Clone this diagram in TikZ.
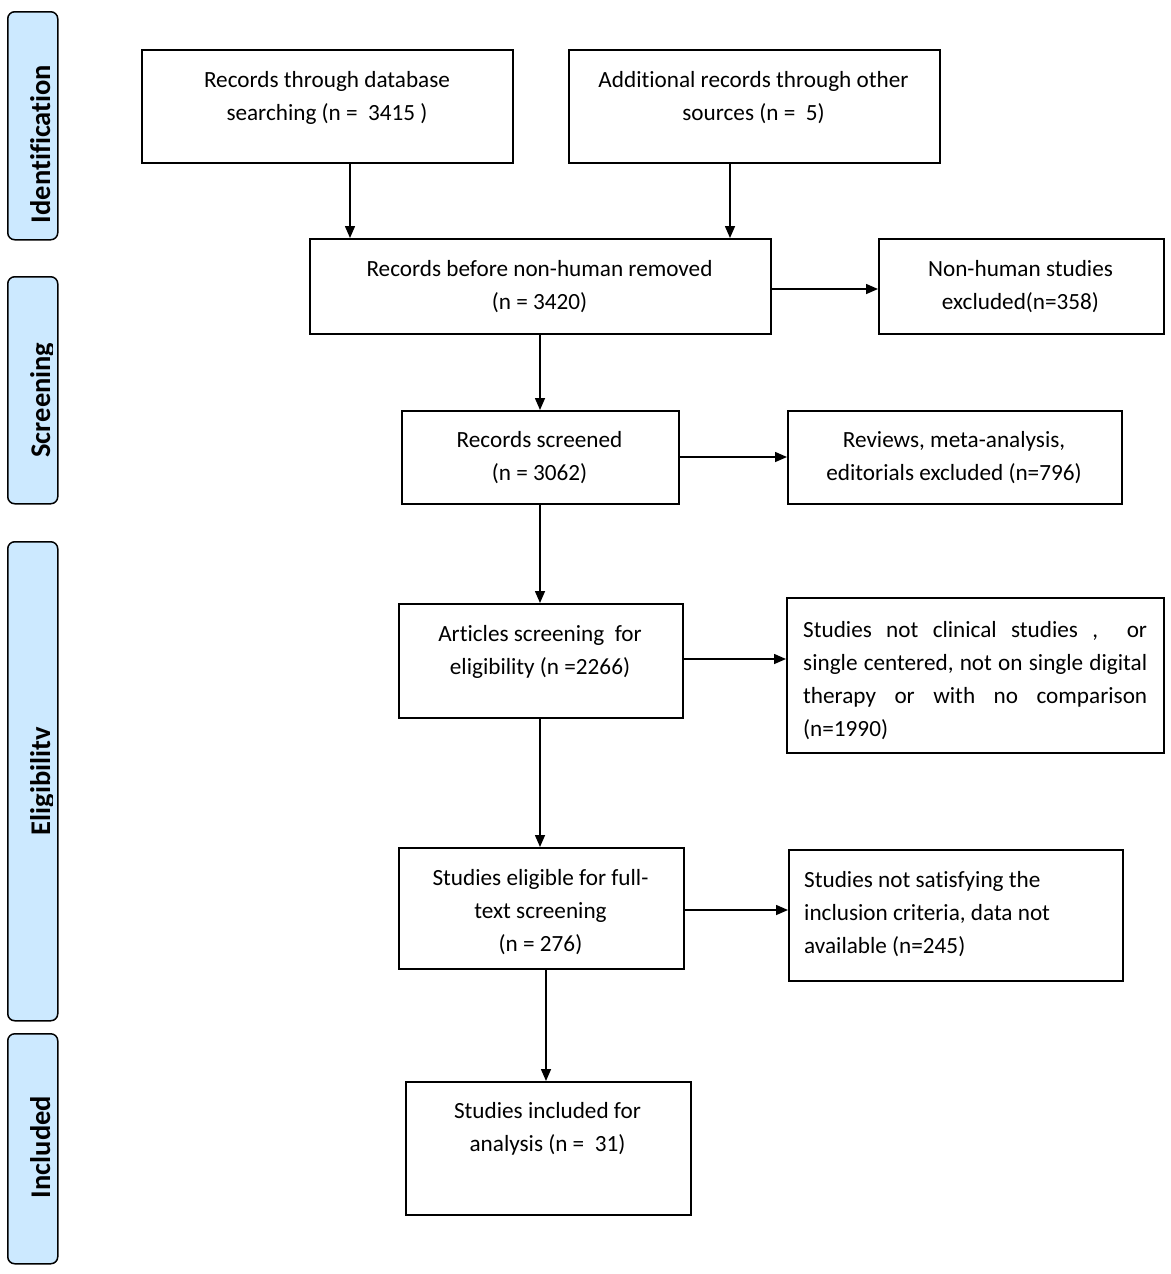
\documentclass[tikz,border=0pt]{standalone}
\usepackage{fontspec}
\setmainfont{Carlito}[RawFeature={-liga;-clig;-dlig}]
\usetikzlibrary{arrows.meta}
\definecolor{phase}{RGB}{204,233,255}
\newcommand{\firstln}{\rule{0pt}{24pt}}
\begin{document}
\begin{tikzpicture}[x=1pt,y=-1pt,
 box/.style={draw=black, line width=1.5pt, anchor=north west, inner sep=0pt},
 txt/.style={font=\fontsize{23.2}{33}\selectfont, align=center, anchor=north, inner sep=0pt},
 ltxt/.style={font=\fontsize{23.2}{33}\selectfont, align=left, anchor=north west, inner sep=0pt},
 arr/.style={line width=1.5pt, -{Triangle[length=12pt,width=10pt]}},
 phasebox/.style={draw=black, fill=phase, rounded corners=7pt, line width=1.5pt, anchor=north west, inner sep=0pt},
 phasetxt/.style={font=\fontsize{28.5}{30}\selectfont\bfseries, rotate=90, anchor=base, inner sep=0pt}]
\useasboundingbox (0,0) rectangle (1170,1274);
\fill[white] (0,0) rectangle (1170,1274);

% phase labels
\node[phasebox, minimum width=50pt, minimum height=228pt] (P1) at (7,11) {};
\node[phasebox, minimum width=50pt, minimum height=227pt] (P2) at (7,276) {};
\node[phasebox, minimum width=50pt, minimum height=479pt] (P3) at (7,541) {};
\node[phasebox, minimum width=50pt, minimum height=230pt] (P4) at (7,1033) {};
\begin{scope}
\clip (7,0) rectangle (52.5,1274);
\node[phasetxt] (T1) at (50,144) {Identification};
\node[phasetxt] (T2) at (50,400) {Screening};
\node[phasetxt] (T3) at (50,781) {Eligibilitv};
\node[phasetxt] (T4) at (50,1147) {Included};
\end{scope}

% boxes
\node[box, minimum width=371pt, minimum height=113pt] (A) at (141,49) {};
\node[box, minimum width=371pt, minimum height=113pt] (B) at (568,49) {};
\node[box, minimum width=461pt, minimum height=95pt] (C) at (309,238) {};
\node[box, minimum width=285pt, minimum height=95pt] (D) at (878,238) {};
\node[box, minimum width=277pt, minimum height=93pt] (E) at (401,410) {};
\node[box, minimum width=334pt, minimum height=93pt] (F) at (787,410) {};
\node[box, minimum width=284pt, minimum height=114pt] (G) at (398,603) {};
\node[box, minimum width=377pt, minimum height=155pt] (H) at (786,597) {};
\node[box, minimum width=285pt, minimum height=121pt] (I) at (398,847) {};
\node[box, minimum width=334pt, minimum height=131pt] (J) at (788,849) {};
\node[box, minimum width=285pt, minimum height=133pt] (K) at (405,1081) {};

% texts
\node[txt] (At) at (327,63) {\firstln Records through database\\searching (n =\ \ 3415 )};
\node[txt] (Bt) at (753.5,63) {\firstln Additional records through other\\sources (n =\ \ 5)};
\node[txt] (Ct) at (539.5,252) {\firstln Records before non-human removed\\(n = 3420)};
\node[txt] (Dt) at (1020.5,252) {\firstln Non-human studies\\excluded(n=358)};
\node[txt] (Et) at (539.5,423) {\firstln Records screened\\(n = 3062)};
\node[txt] (Ft) at (954,423) {\firstln Reviews, meta-analysis,\\editorials excluded (n=796)};
\node[txt] (Gt) at (540,617) {\firstln Articles screening\ \ for\\eligibility (n =2266)};
\node[ltxt] (Ht) at (803,613) {\firstln\makebox[344pt][l]{Studies\hfill not\hfill clinical\hfill studies\hfill ,\hfill\hfill or}\\
\makebox[344pt][l]{single\hfill centered,\hfill not\hfill on\hfill single\hfill digital}\\
\makebox[344pt][l]{therapy\hfill or\hfill with\hfill no\hfill comparison}\\
(n=1990)};
\node[txt] (It) at (540.5,861) {\firstln Studies eligible for full-\\text screening\\(n = 276)};
\node[ltxt] (Jt) at (804,863) {\firstln Studies not satisfying the\\inclusion criteria, data not\\available (n=245)};
\node[txt] (Kt) at (547.5,1094) {\firstln Studies included for\\analysis (n =\ \ 31)};

% connectors
\draw[arr] (A.south -| 350,0) -- (C.north -| 350,0);
\draw[arr] (B.south -| 730,0) -- (C.north -| 730,0);
\draw[arr] (C.east |- 0,289) -- (D.west |- 0,289);
\draw[arr] (C.south -| 540,0) -- (E.north -| 540,0);
\draw[arr] (E.east |- 0,457) -- (F.west |- 0,457);
\draw[arr] (E.south -| 540,0) -- (G.north -| 540,0);
\draw[arr] (G.east |- 0,659) -- (H.west |- 0,659);
\draw[arr] (G.south -| 540,0) -- (I.north -| 540,0);
\draw[arr] (I.east |- 0,910) -- (J.west |- 0,910);
\draw[arr] (I.south -| 546,0) -- (K.north -| 546,0);
\end{tikzpicture}
\end{document}
